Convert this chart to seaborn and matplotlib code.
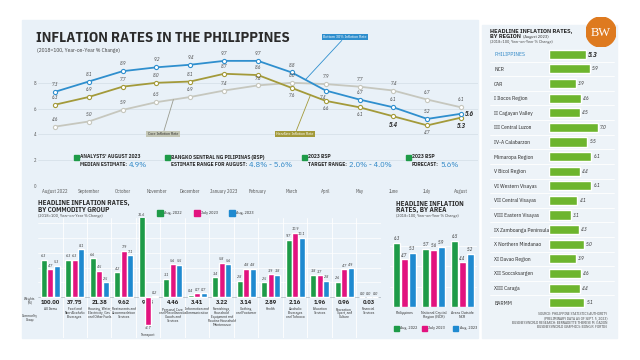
import numpy as np
import pandas as pd
import matplotlib.pyplot as plt
import seaborn as sns
from matplotlib.patches import Rectangle, Circle

# ---- data ----
months = ["August 2022", "September", "October", "November", "December", "January 2023",
          "February", "March", "April", "May", "June", "July", "August"]
bottom30 = [7.3, 8.1, 8.9, 9.2, 9.4, 9.7, 9.7, 8.8, 7.4, 6.7, 6.1, 5.2, 5.6]
headline = [6.3, 6.9, 7.7, 8.0, 8.1, 8.7, 8.6, 7.6, 6.6, 6.1, 5.4, 4.7, 5.3]
core = [4.6, 5.0, 5.9, 6.5, 6.9, 7.4, 7.8, 8.0, 7.9, 7.7, 7.4, 6.7, 6.1]

groups = ["All Items", "Food and\nNon-Alcoholic\nBeverages", "Housing, Water,\nElectricity, Gas\nand Other Fuels",
          "Restaurants and\nAccommodation\nServices", "Transport",
          "Personal Care,\nand Miscellaneous\nGoods and\nServices", "Information and\nCommunication",
          "Furnishings,\nHousehold\nEquipment and\nRoutine Household\nMaintenance", "Clothing\nand Footwear",
          "Health", "Alcoholic\nBeverages\nand Tobacco", "Education\nServices", "Recreation,\nSport, and\nCulture",
          "Financial\nServices"]
weights = ["100.00", "37.75", "21.38", "9.62", "9.03", "4.46", "3.41", "3.22", "3.14", "2.89", "2.16", "1.96", "0.96", "0.03"]
grp_aug22 = [6.3, 6.3, 6.6, 4.2, 16.6, 3.1, 0.4, 3.4, 2.8, 2.5, 9.7, 3.8, 2.6, 0.0]
grp_jul23 = [4.7, 6.3, 4.5, 7.9, -4.7, 5.6, 0.7, 5.8, 4.8, 3.9, 10.9, 3.7, 4.7, 0.0]
grp_aug23 = [5.3, 8.1, 2.5, 7.1, 0.2, 5.5, 0.7, 5.6, 4.8, 3.8, 10.1, 2.8, 4.9, 0.0]
periods = ["Aug. 2022", "July 2023", "Aug. 2023"]

areas = ["Philippines", "National Capital\nRegion (NCR)", "Areas Outside\nNCR"]
area_aug22 = [6.3, 5.7, 6.5]
area_jul23 = [4.7, 5.6, 4.4]
area_aug23 = [5.3, 5.9, 5.2]

regions = ["PHILIPPINES", "NCR", "CAR", "I Ilocos Region", "II Cagayan Valley", "III Central Luzon",
           "IV-A Calabarzon", "Mimaropa Region", "V Bicol Region", "VI Western Visayas", "VII Central Visayas",
           "VIII Eastern Visayas", "IX Zamboanga Peninsula", "X Northern Mindanao", "XI Davao Region",
           "XII Soccsksargen", "XIII Caraga", "BARMM"]
region_rates = [5.3, 5.9, 3.9, 4.6, 4.5, 7.0, 5.5, 6.1, 4.4, 6.1, 4.1, 3.1, 4.3, 5.0, 3.9, 4.6, 4.4, 5.1]

# ---- style ----
sns.set_theme(style="white")
NARROW = ['IBM Plex Sans Condensed', 'DejaVu Sans']
plt.rcParams['font.family'] = NARROW
DARK = '#2b2b2b'
BLUE_L, OLIVE, GREY_L = '#2f8fce', '#a39a3a', '#c6c7be'
GREEN, MAGENTA, BLUE = '#1e9b48', '#e2137f', '#1f8ad0'
VALBLUE = '#2d86c6'
PANEL = '#e9f1f8'

fig = plt.figure(figsize=(6.4, 3.6), dpi=100)
fig.patch.set_facecolor('white')
renderer = fig.canvas.get_renderer()


def px(x, y, w, h):
    return [x / 640, 1 - (y + h) / 360, w / 640, h / 360]


def ftext(x, y, s, **kw):
    return fig.text(x / 640, 1 - y / 360, s, **kw)


def right_edge(t):
    return t.get_window_extent(renderer).x1


def fsquare(x, y, size, color):
    fig.patches.append(Rectangle((x / 640, 1 - (y + size / 2) / 360), size / 640, size / 360,
                                 transform=fig.transFigure, color=color, zorder=5))


# panels
fig.patches.append(Rectangle((22 / 640, 1 - 338 / 360), 456 / 640, 318 / 360,
                             transform=fig.transFigure, color=PANEL, zorder=-5))
fig.patches.append(Rectangle((482 / 640, 1 - 338 / 360), 135 / 640, 313 / 360,
                             transform=fig.transFigure, color='#edf3f8', zorder=-5))

# ---- top line chart ----
ftext(36, 38, "INFLATION RATES IN THE PHILIPPINES", fontsize=10.6, fontweight='bold', color=DARK, va='center')
ftext(37, 50.5, "(2018=100, Year-on-Year % Change)", fontsize=4.0, color='#444', va='center')

ax1 = fig.add_axes(px(38, 57, 440, 129))
ax1.set_facecolor('none')
idx = np.arange(len(months))
for vals, col in [(core, GREY_L), (headline, OLIVE), (bottom30, BLUE_L)]:
    sns.lineplot(x=idx, y=vals, ax=ax1, color=col, lw=1.3, marker='o', markersize=3,
                 markerfacecolor='white', markeredgecolor=col, markeredgewidth=0.8, zorder=3)

lab_kw = dict(textcoords='offset points', ha='center', fontsize=3.5, style='italic', color='#444')
for i in idx:
    ax1.annotate(f"{core[i]:.1f}", (i, core[i]), xytext=(0, 3.5), va='bottom', **lab_kw)
    if i == 8:
        ax1.annotate(f"{bottom30[i]:.1f}", (i, bottom30[i]), xytext=(-2, -3), va='top', **lab_kw)
    elif i == 12:
        ax1.annotate(f"{bottom30[i]:.1f}", (i, bottom30[i]), xytext=(6, 0), va='center',
                     **{**lab_kw, 'fontsize': 4.8, 'color': DARK, 'fontweight': 'bold'})
    else:
        ax1.annotate(f"{bottom30[i]:.1f}", (i, bottom30[i]), xytext=(0, 3.5), va='bottom', **lab_kw)
    if i <= 6:
        ax1.annotate(f"{headline[i]:.1f}", (i, headline[i]), xytext=(0, 3.5), va='bottom', **lab_kw)
    else:
        big = {'fontsize': 4.8, 'color': DARK, 'fontweight': 'bold'} if i in (10, 12) else {}
        ax1.annotate(f"{headline[i]:.1f}", (i, headline[i]), xytext=(0, -3.5), va='top', **{**lab_kw, **big})

ax1.set_xlim(-0.5, 12.5)
ax1.set_ylim(0, 10)
ax1.set_yticks([0, 2, 4, 6, 8])
ax1.set_xticks(idx)
ax1.set_xticklabels(months, fontsize=3.5, color='#555')
ax1.tick_params(axis='y', labelsize=3.4, colors='#555', length=0, pad=1)
ax1.tick_params(axis='x', length=0, pad=2.5)
ax1.set_xticks(idx[:-1] + 0.5, minor=True)
ax1.tick_params(axis='x', which='minor', length=5, color='#cfd8e0', width=0.5, direction='in')
ax1.grid(axis='y', color='#d3dde6', lw=0.5)
sns.despine(ax=ax1, left=True, bottom=True)

box = dict(boxstyle='square,pad=0.35', lw=0)
ax1.annotate("Bottom 30% Inflation Rate", xy=(7.4, 8.24), xytext=(345, 323), textcoords='figure pixels',
             fontsize=2.9, color='white', ha='center', va='center', bbox={**box, 'fc': BLUE_L},
             arrowprops=dict(arrowstyle='-', color=BLUE_L, lw=0.6, shrinkA=0, shrinkB=0))
ax1.annotate("Core Inflation Rate", xy=(3.5, 6.7), xytext=(163, 226), textcoords='figure pixels',
             fontsize=2.9, color=DARK, ha='center', va='center', bbox={**box, 'fc': '#c4c7b6'},
             arrowprops=dict(arrowstyle='-', color='#9a9c90', lw=0.6, shrinkA=0, shrinkB=0))
ax1.annotate("Headline Inflation Rate", xy=(7.55, 7.05), xytext=(295, 226), textcoords='figure pixels',
             fontsize=2.9, color='white', ha='center', va='center', bbox={**box, 'fc': OLIVE},
             arrowprops=dict(arrowstyle='-', color=OLIVE, lw=0.6, shrinkA=0, shrinkB=0))

# estimate boxes
txt_kw = dict(fontsize=4.0, fontweight='bold', color=DARK, va='center')
val_kw = dict(fontsize=6.0, color=VALBLUE, va='center')
for sx, line1, line2, value in [(74, "ANALYSTS' AUGUST 2023", "MEDIAN ESTIMATE:", "4.9%"),
                                (165, "BANGKO SENTRAL NG PILIPINAS (BSP)", "ESTIMATE RANGE FOR AUGUST:", "4.8% - 5.6%"),
                                (302, "2023 BSP", "TARGET RANGE:", "2.0% - 4.0%"),
                                (406, "2023 BSP", "FORECAST:", "5.6%")]:
    fsquare(sx, 157, 5, GREEN)
    ftext(sx + 6, 157, line1, **txt_kw)
    t2 = ftext(sx + 6, 165, line2, **txt_kw)
    ftext(right_edge(t2) + 2, 165.5, value, **val_kw)

# ---- commodity group chart ----
ftext(38, 203, "HEADLINE INFLATION RATES,", fontsize=5.0, fontweight='bold', color=DARK, va='center')
ftext(38, 209.5, "BY COMMODITY GROUP", fontsize=5.0, fontweight='bold', color=DARK, va='center')
ftext(38, 215.5, "(2018=100, Year-on-Year % Change)", fontsize=3.1, color='#444', va='center')
for xx, col, lab in [(157, GREEN, periods[0]), (194, MAGENTA, periods[1]), (229, BLUE, periods[2])]:
    fsquare(xx, 213, 5.5, col)
    ftext(xx + 7, 213, lab, fontsize=3.1, color=DARK, va='center')

df_grp = pd.DataFrame({
    'group': np.tile(np.arange(len(groups)), 3),
    'period': np.repeat(periods, len(groups)),
    'rate': grp_aug22 + grp_jul23 + grp_aug23,
})
ax2 = fig.add_axes(px(38, 218, 343, 120))
ax2.set_facecolor('none')
sns.barplot(data=df_grp, x='group', y='rate', hue='period', palette=[GREEN, MAGENTA, BLUE],
            width=0.8, gap=0.08, legend=False, ax=ax2, zorder=3, saturation=1)
ax2.set_xlim(-0.5, len(groups) - 0.5)
ax2.set_ylim(-6.9, 13.4)
ymax = 13.4
for k, vals in enumerate([grp_aug22, grp_jul23, grp_aug23]):
    for i, v in enumerate(vals):
        xk = i + (k - 1) * 0.8 / 3
        if v < 0:
            ax2.text(xk, v - 0.25, f"{v:.1f}", ha='center', va='top', fontsize=2.9, style='italic', color='#333')
        else:
            ax2.text(xk, min(v, ymax) + 0.25, f"{v:.1f}", ha='center', va='bottom', fontsize=2.9,
                     style='italic', color='#333', clip_on=False)
for i, (g, w) in enumerate(zip(groups, weights)):
    ax2.text(i, -0.45, w, ha='center', va='top', fontsize=4.6, fontweight='bold', color=DARK,
             zorder=1 if g == "Transport" else 4)
    if g == "Transport":
        ax2.text(i, -6.0, g, ha='center', va='top', fontsize=2.6, color=DARK, linespacing=1.0)
    else:
        ax2.text(i, -1.7, g, ha='center', va='top', fontsize=2.6, color=DARK, linespacing=1.0)
for xv in np.arange(len(groups) - 1) + 0.5:
    ax2.axvline(xv, color='white', lw=0.6, zorder=0)
for yv in [2.5, 5, 7.5, 10, 12.5]:
    ax2.axhline(yv, color='white', lw=0.5, zorder=0)
ax2.axhline(0, color='#9aa3ab', lw=0.4, zorder=2)
ax2.set_xticks([])
ax2.set_yticks([])
ax2.set_xlabel('')
ax2.set_ylabel('')
sns.despine(ax=ax2, left=True, bottom=True)
ftext(30, 301, "Weights\n(%)", fontsize=2.5, color=DARK, ha='center', va='center', linespacing=1.0)
ftext(30, 318, "Commodity\nGroup", fontsize=2.5, color=DARK, ha='center', va='center', linespacing=1.0)

# ---- area chart ----
ftext(396, 203, "HEADLINE INFLATION", fontsize=5.0, fontweight='bold', color=DARK, va='center')
ftext(396, 209.5, "RATES, BY AREA", fontsize=5.0, fontweight='bold', color=DARK, va='center')
ftext(396, 215.5, "(2018=100, Year-on-Year % Change)", fontsize=3.0, color='#444', va='center')
df_area = pd.DataFrame({
    'area': np.tile(np.arange(len(areas)), 3),
    'period': np.repeat(periods, len(areas)),
    'rate': area_aug22 + area_jul23 + area_aug23,
})
ax3 = fig.add_axes(px(390, 228, 87, 79))
ax3.set_facecolor('none')
sns.barplot(data=df_area, x='area', y='rate', hue='period', palette=[GREEN, MAGENTA, BLUE],
            width=0.8, gap=0.1, legend=False, ax=ax3, zorder=3, saturation=1)
ax3.set_xlim(-0.5, 2.5)
ax3.set_ylim(0, 7.75)
for k, vals in enumerate([area_aug22, area_jul23, area_aug23]):
    for i, v in enumerate(vals):
        ax3.text(i + (k - 1) * 0.8 / 3, v + 0.15, f"{v:.1f}", ha='center', va='bottom', fontsize=3.4,
                 style='italic', color='#333')
for i, a in enumerate(areas):
    ax3.text(i, -0.35, a, ha='center', va='top', fontsize=2.9, color=DARK, linespacing=1.0)
for yv in [2, 4, 6]:
    ax3.axhline(yv, color='white', lw=0.5, zorder=0)
ax3.axhline(0, color='#9aa3ab', lw=0.4, zorder=2)
ax3.set_xticks([])
ax3.set_yticks([])
ax3.set_xlabel('')
ax3.set_ylabel('')
sns.despine(ax=ax3, left=True, bottom=True)
for xx, col, lab in [(394, GREEN, periods[0]), (422, MAGENTA, periods[1]), (453, BLUE, periods[2])]:
    fsquare(xx, 328, 5, col)
    ftext(xx + 6.5, 328, lab, fontsize=3.0, color=DARK, va='center')

# ---- region chart ----
ftext(490, 31, "HEADLINE INFLATION RATES,", fontsize=4.6, fontweight='bold', color=DARK, va='center')
tr = ftext(490, 36.5, "BY REGION", fontsize=4.6, fontweight='bold', color=DARK, va='center')
ftext(right_edge(tr) + 2, 36.8, "(August 2023)", fontsize=3.2, color=DARK, va='center')
ftext(490, 42, "(2018=100, Year-on-Year % Change)", fontsize=3.0, color='#444', va='center')

ax4 = fig.add_axes(px(549, 47, 66, 263))
ax4.set_facecolor('none')
sns.barplot(x=region_rates, y=regions, orient='h', color='#6db52e', width=0.62, ax=ax4, zorder=3, saturation=1)
ax4.set_xlim(0, 9.5)
ax4.set_ylim(17.5, -0.5)
for i, v in enumerate(region_rates):
    big = i == 0
    ax4.text(v + 0.3, i, f"{v:.1f}", va='center', ha='left', style='italic',
             fontsize=5.2 if big else 3.6, fontweight='bold' if big else 'normal', color=DARK)
    if i < len(regions) - 1:
        ax4.plot([-0.9, 0.98], [i + 0.5, i + 0.5], transform=ax4.get_yaxis_transform(),
                 color='white', lw=0.6, clip_on=False, zorder=1)
ax4.set_xticks([])
ax4.tick_params(axis='y', length=0, pad=39.5, labelsize=4.0)
for t in ax4.get_yticklabels():
    t.set_ha('left')
    t.set_color(DARK)
ax4.get_yticklabels()[0].set_color(VALBLUE)
ax4.set_xlabel('')
ax4.set_ylabel('')
sns.despine(ax=ax4, left=True, bottom=True)

# BW logo
axl = fig.add_axes(px(586, 17, 30, 30))
axl.set_xlim(0, 1)
axl.set_ylim(0, 1)
axl.add_patch(Circle((0.5, 0.5), 0.5, color='#de7a1f'))
axl.text(0.5, 0.47, "BW", ha='center', va='center', fontsize=9, color='white',
         family=['Liberation Serif', 'DejaVu Serif'])
axl.axis('off')

src = ["SOURCE: PHILIPPINE STATISTICS AUTHORITY", "(PRELIMINARY DATA AS OF SEPT. 5, 2023)",
       "BUSINESSWORLD RESEARCH: BERNADETTE THERESE M. GADON", "BUSINESSWORLD GRAPHICS: BONG R. FORTIN"]
for j, s in enumerate(src):
    ftext(607, 314 + j * 4.3, s, fontsize=2.6, color='#444', ha='right', va='center')

fig.savefig("out.png", dpi=100)
